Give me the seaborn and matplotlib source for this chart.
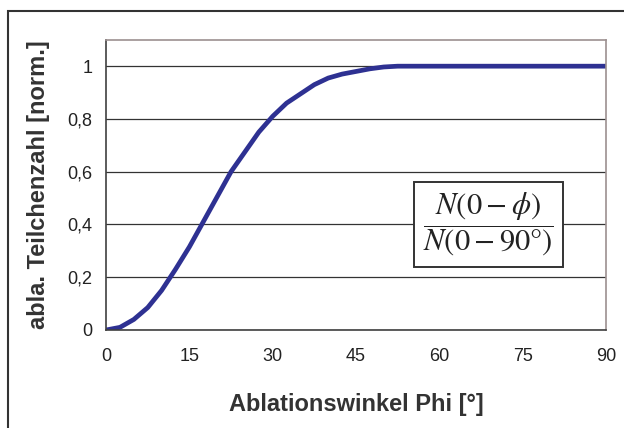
import numpy as np
import pandas as pd
import seaborn as sns
import matplotlib.pyplot as plt
from matplotlib.patches import Rectangle
from matplotlib.ticker import MultipleLocator

# angle in degrees and normalized particle count
phi = [0, 2.5, 5, 7.5, 10, 12.5, 15, 17.5, 20, 22.5, 25, 27.5, 30, 32.5, 35,
       37.5, 40, 42.5, 45, 47.5, 50, 52.5, 55, 60, 65, 70, 75, 80, 85, 90]
counts = [0, 0.01, 0.04, 0.085, 0.15, 0.23, 0.315, 0.41, 0.505, 0.60, 0.675,
          0.75, 0.81, 0.86, 0.895, 0.93, 0.955, 0.97, 0.98, 0.99, 0.997, 1,
          1, 1, 1, 1, 1, 1, 1, 1]
xticks = [0, 15, 30, 45, 60, 75, 90]
yticks = [0, 0.2, 0.4, 0.6, 0.8, 1.0]
ytick_labels = ['0', '0,2', '0,4', '0,6', '0,8', '1']

df = pd.DataFrame({'phi': phi, 'n': counts})

sns.set_style("white")
plt.rcParams['font.family'] = ['Liberation Sans', 'DejaVu Sans']
plt.rcParams['mathtext.fontset'] = 'stix'

fig = plt.figure(figsize=(6.24, 4.28), dpi=100)
ax = fig.add_axes([0.170, 0.229, 0.801, 0.678])

sns.lineplot(data=df, x='phi', y='n', ax=ax, color='#2E3192', linewidth=3.4)

ax.set_xlim(0, 90)
ax.set_ylim(0, 1.1)
ax.set_xticks(xticks)
ax.set_yticks(yticks)
ax.set_yticklabels(ytick_labels)
ax.xaxis.set_minor_locator(MultipleLocator(7.5))
ax.yaxis.set_minor_locator(MultipleLocator(0.1))
ax.tick_params(axis='both', which='major', direction='out', length=5,
               width=1, color='#404040', labelsize=13, labelcolor='#222222', pad=5)
ax.tick_params(axis='both', which='minor', direction='in', length=4,
               width=1, color='#606060')
ax.tick_params(axis='x', which='major', direction='inout', length=8, pad=9)
ax.yaxis.grid(True, color='#333333', linewidth=0.9)
ax.xaxis.grid(False)

for s in ['left', 'bottom']:
    ax.spines[s].set_color('#404040')
    ax.spines[s].set_linewidth(1.2)
for s in ['top', 'right']:
    ax.spines[s].set_color('#9c9090')
    ax.spines[s].set_linewidth(1.2)

ax.set_xlabel('Ablationswinkel Phi [°]', fontsize=17, fontweight='bold',
              color='#333333', labelpad=20)
ax.set_ylabel('abla. Teilchenzahl [norm.]', fontsize=17, fontweight='bold',
              color='#333333', labelpad=12)

ax.text(68.9, 0.40, r'$\dfrac{N\left(0-\phi\right)}{N\left(0-90\degree\right)}$',
        fontsize=22, ha='center', va='center', color='#222222',
        bbox=dict(boxstyle='square,pad=0.3', facecolor='white',
                  edgecolor='#333333', linewidth=1.4))

# outer frame of the chart area
fig.patches.append(Rectangle((8 / 624, -0.1), 1.2, 0.1 + 1 - 11 / 428,
                             transform=fig.transFigure, fill=False,
                             edgecolor='#333333', linewidth=1.5))

fig.savefig('out.png', dpi=100)
